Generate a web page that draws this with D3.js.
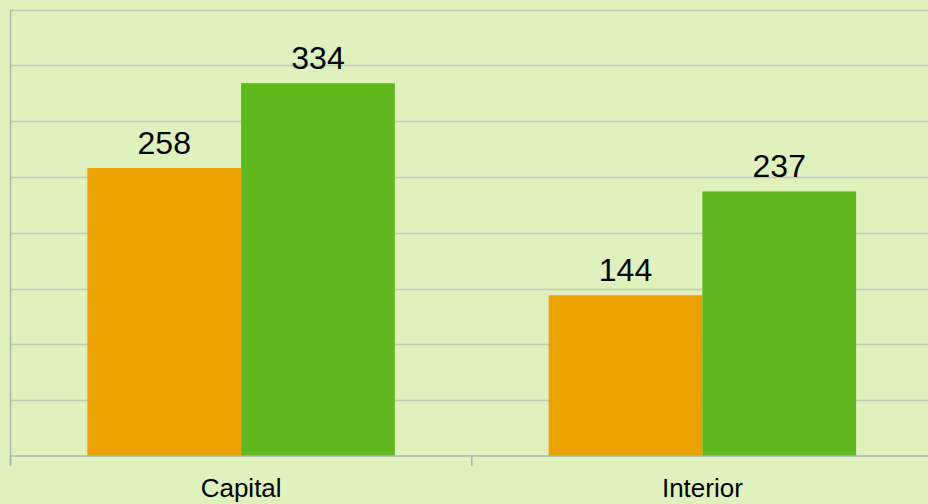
<!DOCTYPE html>
<html>
<head>
<meta charset="utf-8">
<script src="https://cdn.jsdelivr.net/npm/d3@7"></script>
<style>
  html, body { margin: 0; padding: 0; background: #dff2bd; }
  svg { display: block; }
</style>
</head>
<body>
<div class="chart"></div>
<script>
const categories = ["Capital", "Interior"];
const seriesA = [258, 144];
const seriesB = [334, 237];
const yTicks = [0, 50, 100, 150, 200, 250, 300, 350, 400];

const w = 928;
const h = 504;
const padL = 10.5, padT = 9.5, baseY = 456, padR = 933;

let svg = d3.select(".chart").append("svg")
  .attr("width", w)
  .attr("height", h);

svg.append("rect")
  .attr("width", w).attr("height", h)
  .attr("fill", "#dff2bd");

const xScale = d3.scaleBand()
  .domain(categories)
  .range([padL, padR])
  .paddingInner(0)
  .paddingOuter(0);

const inner = d3.scaleBand()
  .domain(["a", "b"])
  .range([0, xScale.bandwidth()])
  .paddingOuter(0.5)
  .paddingInner(0);

const yScale = d3.scaleLinear().domain([0, 400]).range([baseY, padT]);

// gridlines
svg.append("g")
  .selectAll("line")
  .data(yTicks.slice(1))
  .enter()
  .append("line")
  .attr("x1", padL).attr("x2", w)
  .attr("y1", d => Math.round(yScale(d)) + 0.5)
  .attr("y2", d => Math.round(yScale(d)) + 0.5)
  .attr("stroke", "#c3c8b8")
  .attr("stroke-width", 1.5);

// left axis line
svg.append("line")
  .attr("x1", padL).attr("x2", padL)
  .attr("y1", padT).attr("y2", baseY + 10)
  .attr("stroke", "#b3b3b3").attr("stroke-width", 1.5);

// bars
const groups = categories.map((c, i) => ({ cat: c, vals: [["a", seriesA[i]], ["b", seriesB[i]]] }));
const colors = { a: "#e8a202", b: "#5eb91e" };

let g = svg.selectAll(".grp")
  .data(groups)
  .enter()
  .append("g")
  .attr("transform", d => `translate(${xScale(d.cat)},0)`);

g.selectAll("rect")
  .data(d => d.vals)
  .enter()
  .append("rect")
  .attr("x", d => inner(d[0]))
  .attr("y", d => yScale(d[1]))
  .attr("width", inner.bandwidth())
  .attr("height", d => baseY - yScale(d[1]))
  .attr("fill", d => colors[d[0]]);

g.selectAll("text")
  .data(d => d.vals)
  .enter()
  .append("text")
  .attr("x", d => inner(d[0]) + inner.bandwidth() / 2)
  .attr("y", d => yScale(d[1]) - 14)
  .attr("text-anchor", "middle")
  .attr("font-family", "Liberation Sans, Arial, sans-serif")
  .attr("font-size", 32)
  .attr("fill", "#000")
  .text(d => d[1]);

// bottom axis
const xAxis = d3.axisBottom(xScale).tickSize(0).tickPadding(23);
let ax = svg.append("g")
  .attr("transform", `translate(0,${baseY})`)
  .call(xAxis);
ax.select(".domain").remove();
ax.selectAll("text")
  .attr("font-family", "Liberation Sans, Arial, sans-serif")
  .attr("font-size", 26)
  .attr("fill", "#000");

svg.append("line")
  .attr("x1", padL).attr("x2", w)
  .attr("y1", baseY).attr("y2", baseY)
  .attr("stroke", "#b3b3b3").attr("stroke-width", 1.5);

svg.append("g")
  .selectAll("line")
  .data(categories.map(c => xScale(c)).concat([padR]))
  .enter()
  .append("line")
  .attr("x1", d => d).attr("x2", d => d)
  .attr("y1", baseY).attr("y2", baseY + 10)
  .attr("stroke", "#b3b3b3").attr("stroke-width", 1.5);
</script>
</body>
</html>
